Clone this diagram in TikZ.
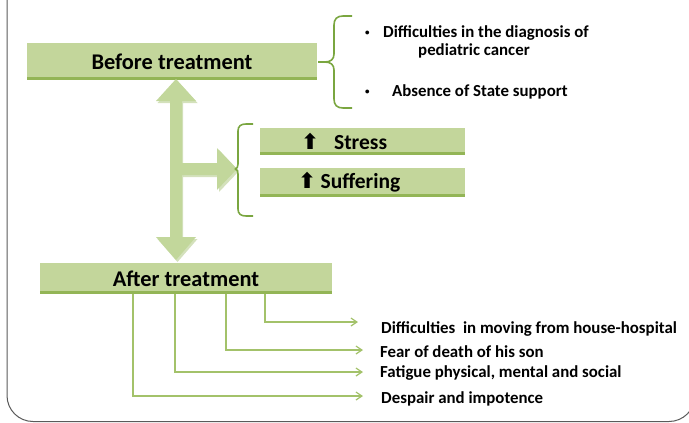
\documentclass[tikz,border=0pt]{standalone}
\usepackage{fontspec}
\usepackage{graphicx}
\setmainfont{Carlito}
\newfontfamily\symfont{DejaVu Sans}
\usetikzlibrary{arrows.meta,calc}
\definecolor{boxfill}{HTML}{C3D69B}
\definecolor{boxshade}{HTML}{93B556}
\definecolor{arrowfill}{HTML}{C2D79B}
\definecolor{arrowshade}{HTML}{A9C47A}
\definecolor{bracecol}{HTML}{7AA640}
\definecolor{linecol}{HTML}{A3C26A}
\definecolor{framecol}{HTML}{5A5A5A}
\newcommand{\uparr}{\scalebox{1.35}[1.35]{\symfont\fontsize{16}{18}\selectfont ⬆}}
\begin{document}
\begin{tikzpicture}[x=1pt,y=-1pt,
  greenbox/.style={fill=boxfill, draw=none, inner sep=0pt, text=black,
    font=\bfseries\fontsize{22.4}{25}\selectfont},
  smallbox/.style={greenbox, minimum width=205pt, text width=205pt, align=left,
    font=\bfseries\fontsize{21.5}{24}\selectfont},
  item/.style={inner sep=0pt, anchor=base west, font=\bfseries\fontsize{16.85}{18}\selectfont},
  bitem/.style={inner sep=0pt, anchor=base west, font=\bfseries\fontsize{16.85}{18}\selectfont},
  dotitem/.style={inner sep=0pt, anchor=base west, font=\bfseries\fontsize{9}{10}\selectfont},
  brace/.style={draw=bracecol, line width=1.6pt, line join=round},
  conn/.style={draw=linecol, line width=1.4pt, -{Straight Barb[length=6pt,width=8pt,line width=1.2pt]}},
  fat/.style={fill=arrowfill, draw=none},
  fatshadow/.style={fill=arrowshade, opacity=0.5, draw=none}
]
\useasboundingbox (0,0) rectangle (689,423);

% frame
\draw[framecol, line width=1pt, rounded corners=26pt] (7,-40) -- (7,421.5) -- (695,421.5) -- (695,-40);

% boxes
\node[greenbox, minimum width=290pt, minimum height=37pt] (before) at (172,61.5) {Before treatment};
\fill[boxshade] (before.south west) rectangle ($(before.south east)+(0,-3.5)$);
\node[greenbox, minimum width=292pt, minimum height=31pt] (after) at (186,278.5) {After treatment};
\fill[boxshade] (after.south west) rectangle ($(after.south east)+(0,-3.5)$);
\node[smallbox, minimum height=27pt] (stress) at (362.5,141.5)
  {\hspace*{41pt}\uparr\hspace{15pt}Stress};
\fill[boxshade] (stress.south west) rectangle ($(stress.south east)+(0,-3.5)$);
\node[smallbox, minimum height=29pt] (suffer) at (362.5,182.5)
  {\hspace*{38pt}\uparr\hspace{4.5pt}Suffering};
\fill[boxshade] (suffer.south west) rectangle ($(suffer.south east)+(0,-3.5)$);

% fat arrows
\fill[fatshadow] (177.5,81) -- (197.5,103) -- (183,103) -- (183,239) -- (197.5,239) -- (177.5,262) -- (157.5,239) -- (172,239) -- (172,103) -- (157.5,103) -- cycle;
\fill[fatshadow] (183,165) -- (219,165) -- (219,150) -- (239,171) -- (219,192) -- (219,177) -- (183,177) -- cycle;
\fill[fat] (176,79) -- (196,101) -- (182,101) -- (182,163) -- (217,163) -- (217,148) -- (237,169) -- (217,190) -- (217,175) -- (182,175) -- (182,237) -- (196,237) -- (176,260) -- (156,237) -- (170,237) -- (170,101) -- (156,101) -- cycle;

% braces
\draw[brace] (352,16) -- (343,16) .. controls (337,16) and (334,19) .. (334,25) -- (334,54)
  .. controls (334,59) and (331,62) .. (325,62) -- (318,62);
\draw[brace] (325,62) .. controls (331,62) and (334,65) .. (334,70) -- (334,99)
  .. controls (334,105) and (337,108) .. (343,108) -- (352,108);
\draw[brace] (253,124) -- (246,124) .. controls (241,124) and (238,126) .. (238,131) -- (238,164)
  .. controls (238,167) and (237,169) .. (235,169);
\draw[brace] (235,169) .. controls (237,169) and (238,171) .. (238,174) -- (238,209)
  .. controls (238,214) and (241,216) .. (246,216) -- (253,216);

% top bullet items
\node[dotitem] (dot1) at (365,35) {•};
\node[bitem, align=left] (b1) at (383,55) {Difficulties in the diagnosis of\\\hspace*{35pt}pediatric cancer};
\node[dotitem] (dot2) at (365,94) {•};
\node[bitem] (b2) at (392,96) {Absence of State support};

% after-treatment items
\node[item] (t1) at (381,333) {Difficulties\ \ in moving from house-hospital};
\node[item] (t2) at (380,357) {Fear of death of his son};
\node[item] (t3) at (380,377) {Fatigue physical, mental and social};
\node[item] (t4) at (381,403) {Despair and impotence};

\coordinate (e1) at (358,322);
\coordinate (e2) at (363,350);
\coordinate (e3) at (363,372);
\coordinate (e4) at (363,396);
\draw[conn] (after.south -| 265,0) |- (e1);
\draw[conn] (after.south -| 226,0) |- (e2);
\draw[conn] (after.south -| 175,0) |- (e3);
\draw[conn] (after.south -| 133,0) |- (e4);
\end{tikzpicture}
\end{document}
